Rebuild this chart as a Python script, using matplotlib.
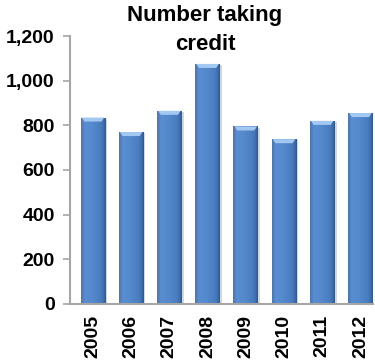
import numpy as np
import matplotlib
matplotlib.use("Agg")
import matplotlib.pyplot as plt
from matplotlib.colors import LinearSegmentedColormap
from matplotlib.patches import Rectangle, Polygon
from matplotlib.ticker import FuncFormatter

years = ["2005", "2006", "2007", "2008", "2009", "2010", "2011", "2012"]
counts = [835, 770, 865, 1075, 795, 738, 820, 855]

plt.rcParams["font.family"] = ["Liberation Sans Narrow", "Liberation Sans", "DejaVu Sans"]
plt.rcParams["font.weight"] = "bold"

W, H = 375, 364
fig = plt.figure(figsize=(W / 100, H / 100), dpi=100)
ax = fig.add_axes([70 / W, 60 / H, 303 / W, 268 / H])

# cylinder-style shading across each bar
body = LinearSegmentedColormap.from_list(
    "body", [(0.0, "#4576b6"), (0.15, "#5a8ed3"), (0.45, "#5489cc"),
             (0.8, "#4a7dbf"), (0.93, "#3e6ca8"), (1.0, "#2f5689")])
grad = np.linspace(0, 1, 64)[None, :]
width = 0.65
x = np.arange(len(years))

for xi, v in zip(x, counts):
    left = xi - width / 2
    # soft shadow
    ax.add_patch(Rectangle((left + 0.05, -5), width, v, facecolor="#8c8c8c",
                           alpha=0.35, lw=0, zorder=1))
    rect = Rectangle((left, 0), width, v, facecolor="none", lw=0, zorder=2)
    ax.add_patch(rect)
    im = ax.imshow(grad, cmap=body, aspect="auto", extent=[left, left + width, 0, v],
                   zorder=2, interpolation="bilinear")
    im.set_clip_path(rect)
    # light bevel on top
    cap = 18
    ax.add_patch(Polygon([[left + 0.03, v], [left + width - 0.03, v],
                          [left + width - 0.1, v - cap], [left + 0.1, v - cap]],
                         closed=True, facecolor="#a3c8f2", edgecolor="none", zorder=3))

ax.set_xlim(-0.6, 7.33)
ax.set_ylim(0, 1200)
ax.set_yticks(range(0, 1201, 200))
ax.yaxis.set_major_formatter(FuncFormatter(lambda v, p: f"{int(v):,}"))
ax.set_xticks(x)
ax.set_xticklabels(years, rotation=90, fontsize=14, fontweight="bold")
for lbl in ax.get_yticklabels():
    lbl.set_fontsize(14)
    lbl.set_fontweight("bold")

for s in ["top", "right"]:
    ax.spines[s].set_visible(False)
for s in ["left", "bottom"]:
    ax.spines[s].set_color("#a6a6a6")
    ax.spines[s].set_linewidth(1.5)
ax.tick_params(axis="y", color="#a6a6a6", length=5, width=1.2, pad=6)
ax.tick_params(axis="x", length=0, pad=8)

fig.text(205 / W, 1 - 16 / H, "Number taking", ha="center", va="center",
         fontsize=16, fontweight="bold")
fig.text(205 / W, 1 - 45 / H, "credit", ha="center", va="center",
         fontsize=16, fontweight="bold")

fig.savefig("out.png", dpi=100)
